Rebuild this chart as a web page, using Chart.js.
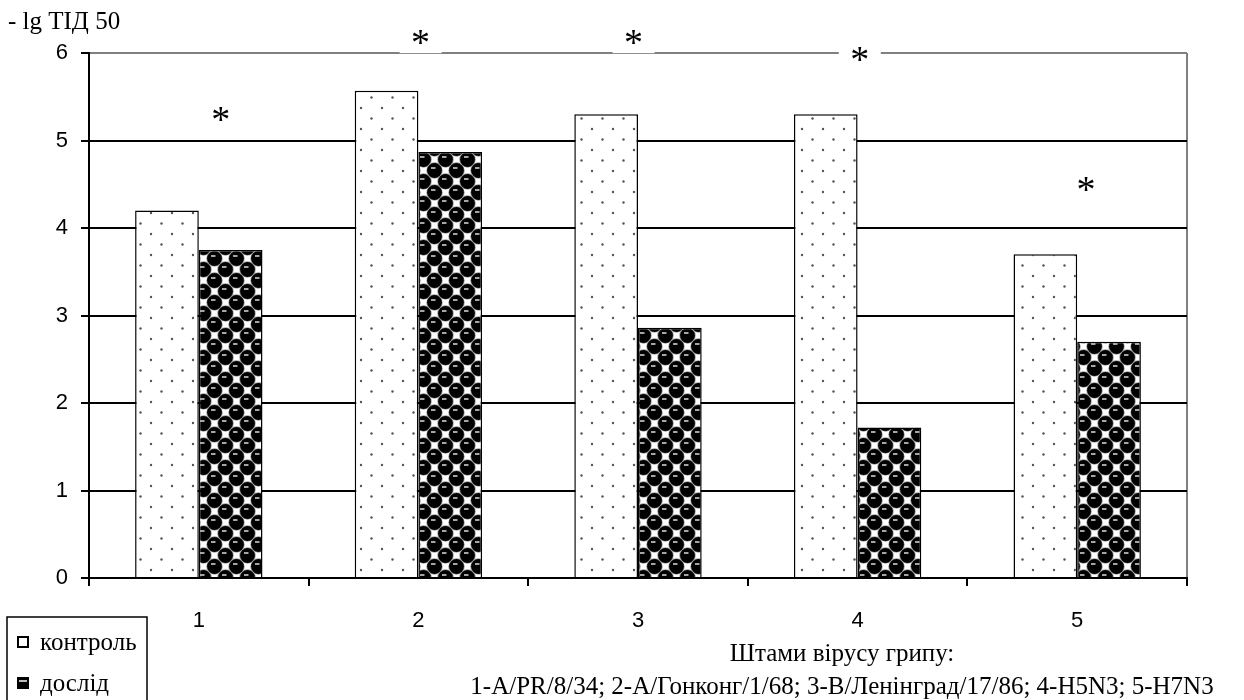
<!DOCTYPE html>
<html>
<head>
<meta charset="utf-8">
<script src="https://cdn.jsdelivr.net/npm/chart.js@4"></script>
<style>
  html, body { margin: 0; padding: 0; background: #fff; }
  #wrap { width: 1244px; height: 700px; position: relative; }
</style>
</head>
<body>
<div id="wrap"><canvas id="c" width="1244" height="700"></canvas></div>
<script>
// data
const categories = ['1', '2', '3', '4', '5'];
const controlValues = [4.2, 5.57, 5.3, 5.3, 3.7];
const testValues = [3.75, 4.87, 2.86, 1.72, 2.7];
const seriesNames = ['контроль', 'дослід'];
const yTicks = [0, 1, 2, 3, 4, 5, 6];
// significance asterisks: small shift from category centre, height in axis units
const starShift = [0.1, 0.01, -0.02, 0.01, 0.04];
const starValue = [5.29, 6.17, 6.17, 5.98, 4.49];
const yTitle = '- lg ТІД 50';
const xTitle = ['Штами вірусу грипу:', '1-A/PR/8/34; 2-A/Гонконг/1/68; 3-B/Ленінград/17/86; 4-H5N3; 5-H7N3'];

const SERIF = '"Liberation Serif", "Times New Roman", serif';
const SANS = '"Liberation Sans", Arial, sans-serif';

// dotted fill for the control bars
function dotPattern(ctx) {
  const t = document.createElement('canvas');
  t.width = 21; t.height = 21;
  const g = t.getContext('2d');
  g.fillStyle = '#fff';
  g.fillRect(0, 0, 21, 21);
  g.fillStyle = '#555';
  [[4, 3], [14.5, 13.5]].forEach(p => {
    g.beginPath(); g.arc(p[0], p[1], 1.2, 0, Math.PI * 2); g.fill();
  });
  return ctx.createPattern(t, 'repeat');
}

// "spheres" fill for the test bars
function ballPattern(ctx) {
  const s = 22, h = s / 2, q = s / 4;
  const t = document.createElement('canvas');
  t.width = s; t.height = s;
  const g = t.getContext('2d');
  g.fillStyle = '#fff';
  g.fillRect(0, 0, s, s);
  const centres = [[q, q], [q + h, q + h], [q - h, q + h], [q + s, q], [q + h, q - h], [q, q + s]];
  centres.forEach(p => {
    g.fillStyle = '#999';
    g.beginPath(); g.arc(p[0], p[1], 8.2, 0, Math.PI * 2); g.fill();
    g.fillStyle = '#000';
    g.beginPath(); g.arc(p[0], p[1], 7.4, 0, Math.PI * 2); g.fill();
    g.strokeStyle = '#ddd';
    g.lineWidth = 1.5;
    g.beginPath(); g.moveTo(p[0] - 3.5, p[1] - 2.5); g.lineTo(p[0] + 1, p[1] - 2.5); g.stroke();
  });
  return ctx.createPattern(t, 'repeat');
}

const extras = {
  id: 'extras',
  afterDraw(chart) {
    const ctx = chart.ctx;
    const x = chart.scales.x, y = chart.scales.y;
    ctx.save();

    // asterisks, with a white box that breaks the top line
    ctx.font = '38px ' + SERIF;
    ctx.textAlign = 'center';
    ctx.textBaseline = 'alphabetic';
    categories.forEach((c, i) => {
      const px = x.getPixelForValue(i + starShift[i]);
      const py = y.getPixelForValue(starValue[i]);
      ctx.fillStyle = '#fff';
      ctx.fillRect(px - 21, py - 15, 42, 30);
      ctx.fillStyle = '#000';
      ctx.fillText('*', px, py + 17);
    });

    // axis titles
    ctx.font = '25px ' + SERIF;
    ctx.textAlign = 'left';
    ctx.fillText(yTitle, 8, 29);
    ctx.textAlign = 'center';
    const cx = 842;
    ctx.fillText(xTitle[0], cx, 661);
    ctx.fillText(xTitle[1], cx, 694);

    // legend box
    ctx.strokeStyle = '#000';
    ctx.lineWidth = 1.5;
    ctx.strokeRect(7, 617, 140, 90);
    ctx.textAlign = 'left';
    ctx.fillStyle = '#fff';
    ctx.fillRect(18, 637, 10, 10);
    ctx.lineWidth = 2;
    ctx.strokeRect(18, 637, 10, 10);
    ctx.fillStyle = '#000';
    ctx.fillText(seriesNames[0], 40, 650);
    ctx.fillRect(17, 677, 12, 12);
    ctx.fillStyle = '#bbb';
    ctx.fillRect(19, 680, 8, 2);
    ctx.fillStyle = '#000';
    ctx.fillText(seriesNames[1], 40, 691);
    ctx.restore();
  }
};

const ctx = document.getElementById('c').getContext('2d');
new Chart(ctx, {
  type: 'bar',
  data: {
    labels: categories,
    datasets: [
      {
        label: seriesNames[0],
        data: controlValues,
        backgroundColor: dotPattern(ctx),
        borderColor: '#000',
        borderWidth: 1.5,
        borderSkipped: 'bottom'
      },
      {
        label: seriesNames[1],
        data: testValues,
        backgroundColor: ballPattern(ctx),
        borderColor: '#000',
        borderWidth: 1.5,
        borderSkipped: 'bottom'
      }
    ]
  },
  options: {
    responsive: false,
    animation: false,
    layout: { padding: { left: 0, right: 57, top: 53, bottom: 0 } },
    datasets: { bar: { categoryPercentage: 0.58, barPercentage: 1.0 } },
    scales: {
      x: {
        afterFit(s) { s.height = 122; },
        grid: {
          // only the right edge of the plot gets a (grey) line
          color: c => (c.type === 'scale' || c.index === categories.length ? '#808080' : 'rgba(0,0,0,0)'),
          tickColor: '#000',
          lineWidth: 2,
          tickLength: 8
        },
        border: { color: '#000', width: 2 },
        ticks: { color: '#000', padding: 22, font: { family: SANS, size: 22 } }
      },
      y: {
        min: 0,
        max: 6,
        afterFit(s) { s.width = 89; },
        afterBuildTicks(s) { s.ticks = yTicks.map(v => ({ value: v })); },
        grid: {
          color: c => (c.tick && c.tick.value === 6 ? '#808080' : '#000'),
          tickColor: '#000',
          lineWidth: 2,
          tickLength: 8
        },
        border: { color: '#000', width: 2 },
        ticks: { color: '#000', padding: 13, font: { family: SANS, size: 22 } }
      }
    },
    plugins: {
      legend: { display: false },
      title: { display: false },
      tooltip: { enabled: false }
    }
  },
  plugins: [extras]
});
</script>
</body>
</html>
